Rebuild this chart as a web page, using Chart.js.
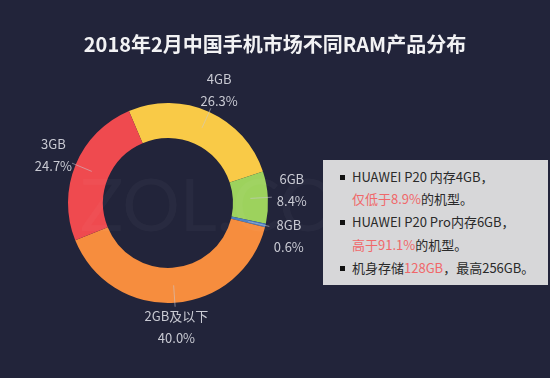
<!DOCTYPE html>
<html>
<head>
<meta charset="utf-8">
<script src="https://cdn.jsdelivr.net/npm/chart.js@4"></script>
<style>
  body { margin: 0; background: #22243a; }
  #wrap { position: relative; width: 550px; height: 378px; background: #22243a; overflow: hidden; }
  #note {
    position: absolute; left: 323px; top: 160px; width: 225px; height: 125px;
    background: #d7d7d9; font-family: "Noto Sans CJK SC", "Noto Sans", sans-serif;
    font-size: 13px; color: #2a2a2a;
  }
  #note div { position: absolute; left: 29px; white-space: nowrap; line-height: 16px; }
  #note .b::before { content: ""; position: absolute; left: -12px; top: 6px; width: 5px; height: 5px; background: #111; }
  #note .hl { color: #f0686a; }
</style>
</head>
<body>
<div id="wrap">
  <canvas id="doughnut" width="550" height="378"></canvas>
  <div id="note">
    <div class="b" style="top:9px">HUAWEI P20 内存4GB，</div>
    <div style="top:31px"><span class="hl">仅低于8.9%</span>的机型。</div>
    <div class="b" style="top:54px">HUAWEI P20 Pro内存6GB，</div>
    <div style="top:77px"><span class="hl">高于91.1%</span>的机型。</div>
    <div class="b" style="top:100px">机身存储<span class="hl">128GB</span>，最高256GB。</div>
  </div>
</div>
<script>
var labels = ['4GB', '6GB', '8GB', '2GB及以下', '3GB'];
var shares = [26.3, 8.4, 0.6, 40.0, 24.7];
var colors = ['#f9ca47', '#9dd25d', '#4a7ec3', '#f68d3e', '#ef4a4f'];

var sliceLabels = {
    id: 'sliceLabels',
    beforeDraw: function(chart) {
        var ctx = chart.ctx;
        ctx.save();
        ctx.fillStyle = '#f2f2f4';
        ctx.font = 'bold 20px "Noto Sans CJK SC", sans-serif';
        ctx.textAlign = 'center';
        ctx.textBaseline = 'middle';
        ctx.fillText('2018年2月中国手机市场不同RAM产品分布', 275, 44);
        ctx.restore();
    },
    afterDatasetsDraw: function(chart) {
        var ctx = chart.ctx;
        var meta = chart.getDatasetMeta(0);
        var items = meta.data.map(function(arc, i) {
            var p = arc.getProps(['x', 'y', 'startAngle', 'endAngle', 'innerRadius', 'outerRadius'], true);
            var mid = (p.startAngle + p.endAngle) / 2;
            var rl = p.outerRadius + 24;
            return { p: p, mid: mid, i: i, lx: p.x + Math.cos(mid) * rl, ly: p.y + Math.sin(mid) * rl };
        });
        // keep labels on the right side from overlapping
        var right = items.filter(function(it) { return Math.cos(it.mid) > 0.5; })
            .sort(function(a, b) { return a.ly - b.ly; });
        for (var k = 1; k < right.length; k++) {
            var gap = right[k].ly - right[k - 1].ly;
            if (gap < 46) {
                var push = (46 - gap) / 2;
                right[k - 1].ly -= push;
                right[k].ly += push;
            }
        }
        ctx.save();
        items.forEach(function(it) {
            var p = it.p;
            var cos = Math.cos(it.mid), sin = Math.sin(it.mid);
            var r0 = (p.innerRadius + p.outerRadius) / 2;
            var r1 = p.outerRadius + 4;
            ctx.strokeStyle = 'rgba(200,200,210,0.55)';
            ctx.lineWidth = 1;
            ctx.beginPath();
            ctx.moveTo(p.x + cos * r0, p.y + sin * r0);
            ctx.lineTo(p.x + cos * r1, p.y + sin * r1);
            ctx.stroke();
            ctx.fillStyle = '#c9cad3';
            ctx.font = '13px "Noto Sans CJK SC", sans-serif';
            ctx.textAlign = 'center';
            ctx.textBaseline = 'middle';
            ctx.fillText(labels[it.i], it.lx, it.ly - 11);
            ctx.fillText(shares[it.i].toFixed(1) + '%', it.lx, it.ly + 11);
        });
        // faint watermark
        ctx.fillStyle = 'rgba(255,255,255,0.03)';
        ctx.font = '72px Lato, sans-serif';
        ctx.textAlign = 'left';
        ctx.textBaseline = 'middle';
        ctx.fillText('ZOL.COM', 80, 208);
        ctx.restore();
    }
};

var ctx = document.getElementById('doughnut').getContext('2d');
var myChart = new Chart(ctx, {
    type: 'doughnut',
    data: {
        labels: labels,
        datasets: [{
            data: shares,
            backgroundColor: colors,
            borderWidth: 0
        }]
    },
    options: {
        responsive: false,
        animation: false,
        rotation: -23,
        cutout: '65%',
        layout: { padding: { left: 68, right: 282, top: 103, bottom: 75 } },
        plugins: {
            legend: { display: false },
            tooltip: { enabled: false }
        }
    },
    plugins: [sliceLabels]
});
</script>
</body>
</html>
